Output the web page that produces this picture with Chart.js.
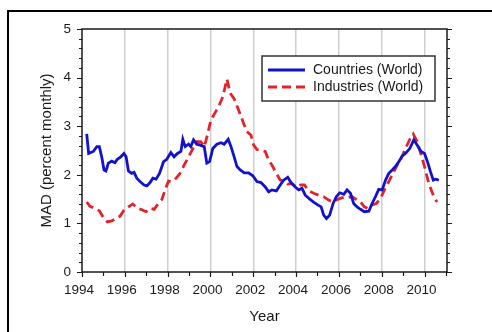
<!DOCTYPE html>
<html><head><meta charset="utf-8">
<script src="https://cdn.jsdelivr.net/npm/chart.js@4.4.1/dist/chart.umd.min.js"></script>
<style>
html,body{margin:0;padding:0;background:#fff;overflow:hidden;}
#wrap{position:relative;width:492px;height:332px;overflow:hidden;background:#fff;}
#frame{position:absolute;left:7px;top:10px;width:700px;height:500px;border:2px solid #000;box-sizing:border-box;}
canvas{position:absolute;left:0;top:0;}
</style></head><body>
<div id="wrap"><div id="frame"></div><canvas id="c" width="492" height="332"></canvas></div>
<script>
const seriesNames = ['Countries (World)', 'Industries (World)'];
const countriesYears = [1994.22,1994.31,1994.53,1994.69,1994.81,1994.92,1995.03,1995.12,1995.23,1995.39,1995.54,1995.65,1995.81,1995.96,1996.06,1996.17,1996.32,1996.43,1996.56,1996.71,1996.90,1997.03,1997.18,1997.31,1997.46,1997.62,1997.81,1997.96,1998.15,1998.30,1998.46,1998.62,1998.71,1998.82,1998.98,1999.08,1999.21,1999.36,1999.52,1999.71,1999.83,1999.96,2000.11,2000.30,2000.49,2000.64,2000.83,2000.96,2001.08,2001.24,2001.39,2001.58,2001.78,2001.98,2002.17,2002.36,2002.56,2002.72,2002.87,2003.08,2003.26,2003.42,2003.61,2003.76,2003.96,2004.12,2004.28,2004.43,2004.64,2004.82,2005.01,2005.17,2005.29,2005.42,2005.57,2005.73,2005.88,2006.04,2006.23,2006.38,2006.54,2006.69,2006.85,2007.01,2007.19,2007.40,2007.55,2007.71,2007.86,2008.02,2008.18,2008.33,2008.49,2008.64,2008.80,2008.96,2009.11,2009.31,2009.50,2009.66,2009.84,2010.00,2010.16,2010.28,2010.41,2010.51,2010.67];
const countriesValues = [2.84,2.44,2.48,2.58,2.58,2.37,2.10,2.08,2.24,2.28,2.25,2.32,2.37,2.44,2.37,2.08,2.03,2.05,1.93,1.86,1.79,1.77,1.84,1.93,1.91,2.03,2.27,2.32,2.46,2.37,2.44,2.48,2.73,2.58,2.63,2.58,2.72,2.63,2.61,2.58,2.24,2.27,2.54,2.63,2.66,2.63,2.73,2.58,2.41,2.17,2.10,2.04,2.04,1.98,1.86,1.84,1.75,1.65,1.69,1.67,1.79,1.89,1.95,1.84,1.75,1.69,1.72,1.58,1.50,1.44,1.38,1.34,1.17,1.10,1.17,1.41,1.55,1.63,1.60,1.69,1.62,1.41,1.34,1.29,1.24,1.25,1.41,1.55,1.70,1.69,1.89,2.03,2.10,2.17,2.27,2.39,2.44,2.54,2.72,2.61,2.48,2.44,2.24,2.06,1.89,1.91,1.89];
const industriesYears = [1994.22,1994.37,1994.61,1994.81,1995.00,1995.19,1995.39,1995.59,1995.78,1995.96,1996.17,1996.37,1996.56,1996.74,1996.99,1997.18,1997.37,1997.57,1997.73,1997.88,1998.04,1998.19,1998.40,1998.58,1998.77,1998.98,1999.18,1999.36,1999.55,1999.71,1999.86,2000.02,2000.22,2000.38,2000.58,2000.77,2000.92,2001.11,2001.31,2001.52,2001.70,2001.89,2002.02,2002.17,2002.36,2002.56,2002.72,2002.87,2003.08,2003.26,2003.45,2003.61,2003.81,2004.01,2004.20,2004.39,2004.59,2004.82,2005.06,2005.29,2005.52,2005.73,2005.91,2006.15,2006.38,2006.62,2006.82,2007.01,2007.19,2007.35,2007.55,2007.75,2007.94,2008.13,2008.33,2008.53,2008.72,2008.91,2009.11,2009.31,2009.47,2009.66,2009.84,2010.00,2010.16,2010.31,2010.47,2010.59];
const industriesValues = [1.44,1.35,1.31,1.26,1.12,1.03,1.05,1.10,1.15,1.27,1.34,1.40,1.32,1.29,1.24,1.31,1.29,1.41,1.49,1.69,1.87,1.86,1.93,2.03,2.20,2.37,2.54,2.68,2.68,2.58,2.82,3.13,3.28,3.40,3.61,3.97,3.68,3.56,3.34,3.09,2.89,2.82,2.61,2.52,2.50,2.48,2.30,2.20,2.03,1.89,1.86,1.81,1.82,1.75,1.79,1.79,1.67,1.62,1.58,1.55,1.48,1.44,1.49,1.53,1.53,1.55,1.49,1.44,1.34,1.31,1.38,1.41,1.51,1.69,1.86,2.03,2.20,2.34,2.54,2.73,2.84,2.68,2.41,2.17,1.89,1.69,1.51,1.44];
const xTickLabels = ['1994','1996','1998','2000','2002','2004','2006','2008','2010'];
const yTickLabels = ['0','1','2','3','4','5'];

const BLUE = '#1212cc';
const RED = '#e3232b';
const INK = '#1a1a1a';
const FONT = "'Liberation Sans', Arial, sans-serif";

function pts(xs, ys){ return xs.map((x,i)=>({x:x, y:ys[i]})); }

const decor = {
  id: 'decor',
  afterDatasetsDraw(chart){
    const ctx = chart.ctx, a = chart.chartArea;
    const xs = chart.scales.x, ys = chart.scales.y;
    ctx.save();
    ctx.strokeStyle = INK; ctx.lineWidth = 1.5;
    ctx.strokeRect(a.left, a.top, a.right - a.left, a.bottom - a.top);
    ctx.lineWidth = 1.2;
    ctx.beginPath();
    for (let i = 0; i <= 25; i++) {
      const v = i * 0.2;
      const py = Math.round(ys.getPixelForValue(v)) + 0.5;
      const len = (i % 5 === 0) ? 5 : 3;
      ctx.moveTo(a.left - len, py); ctx.lineTo(a.left, py);
      ctx.moveTo(a.right, py); ctx.lineTo(a.right + len, py);
    }
    for (let yr = 1994; yr <= 2011; yr++) {
      const px = Math.round(xs.getPixelForValue(yr)) + 0.5;
      const len = (yr % 2 === 0) ? 5 : 4;
      ctx.moveTo(px, a.bottom); ctx.lineTo(px, a.bottom + len);
    }
    ctx.stroke();

    const lx = 262, ly = 56, lw = 173, lh = 45;
    ctx.fillStyle = '#fff';
    ctx.fillRect(lx, ly, lw, lh);
    ctx.strokeStyle = '#333'; ctx.lineWidth = 1.5;
    ctx.strokeRect(lx, ly, lw, lh);
    const rows = [70, 87];
    chart.data.datasets.forEach((ds, i) => {
      ctx.beginPath();
      ctx.strokeStyle = ds.borderColor; ctx.lineWidth = ds.borderWidth;
      ctx.setLineDash(ds.borderDash || []);
      ctx.moveTo(268, rows[i]); ctx.lineTo(305, rows[i]);
      ctx.stroke();
      ctx.setLineDash([]);
      ctx.fillStyle = INK;
      ctx.font = '14px ' + FONT;
      ctx.textBaseline = 'middle';
      ctx.textAlign = 'left';
      ctx.fillText(ds.label, 313, rows[i]);
    });
    ctx.restore();
  }
};

new Chart(document.getElementById('c'), {
  type: 'line',
  data: {
    datasets: [
      { label: seriesNames[0], data: pts(countriesYears, countriesValues), borderColor: BLUE, borderWidth: 2.8, pointRadius: 0, tension: 0, fill: false },
      { label: seriesNames[1], data: pts(industriesYears, industriesValues), borderColor: RED, borderWidth: 2.8, borderDash: [9,5], pointRadius: 0, tension: 0, fill: false }
    ]
  },
  options: {
    responsive: false,
    animation: false,
    devicePixelRatio: 1,
    layout: { padding: { left: 0, top: 29, right: 45, bottom: 0 } },
    plugins: { legend: { display: false }, tooltip: { enabled: false } },
    scales: {
      x: {
        type: 'linear', min: 1994, max: 2011.05,
        afterBuildTicks(scale){ const t = []; for (let yr = 1994; yr <= 2011; yr++) t.push({value: yr}); scale.ticks = t; },
        afterFit(scale){ scale.height = 60; },
        ticks: {
          autoSkip: false, maxRotation: 0, padding: 10, color: INK, labelOffset: -3,
          font: { family: FONT, size: 13.5 },
          callback(v){ const i = xTickLabels.indexOf(String(v)); return i >= 0 ? xTickLabels[i] : ''; }
        },
        grid: {
          drawTicks: false, lineWidth: 1.5,
          color(c){ const v = c.tick && c.tick.value; return (v > 1994 && v % 2 === 0) ? '#cfcfcf' : 'rgba(0,0,0,0)'; }
        },
        border: { display: false },
        title: { display: true, text: 'Year', color: INK, font: { family: FONT, size: 15 }, padding: { top: 0, bottom: 6 } }
      },
      y: {
        min: 0, max: 5,
        afterBuildTicks(scale){ scale.ticks = yTickLabels.map(s => ({value: Number(s)})); },
        afterFit(scale){ scale.width = 82; },
        ticks: {
          padding: 11, color: INK,
          font: { family: FONT, size: 13.5 },
          callback(v){ return yTickLabels[v]; }
        },
        grid: { display: false, drawTicks: false },
        border: { display: false },
        title: { display: true, text: 'MAD (percent monthly)', color: INK, font: { family: FONT, size: 15 }, padding: { top: 38, bottom: 0 } }
      }
    }
  },
  plugins: [decor]
});
</script>
</body></html>
